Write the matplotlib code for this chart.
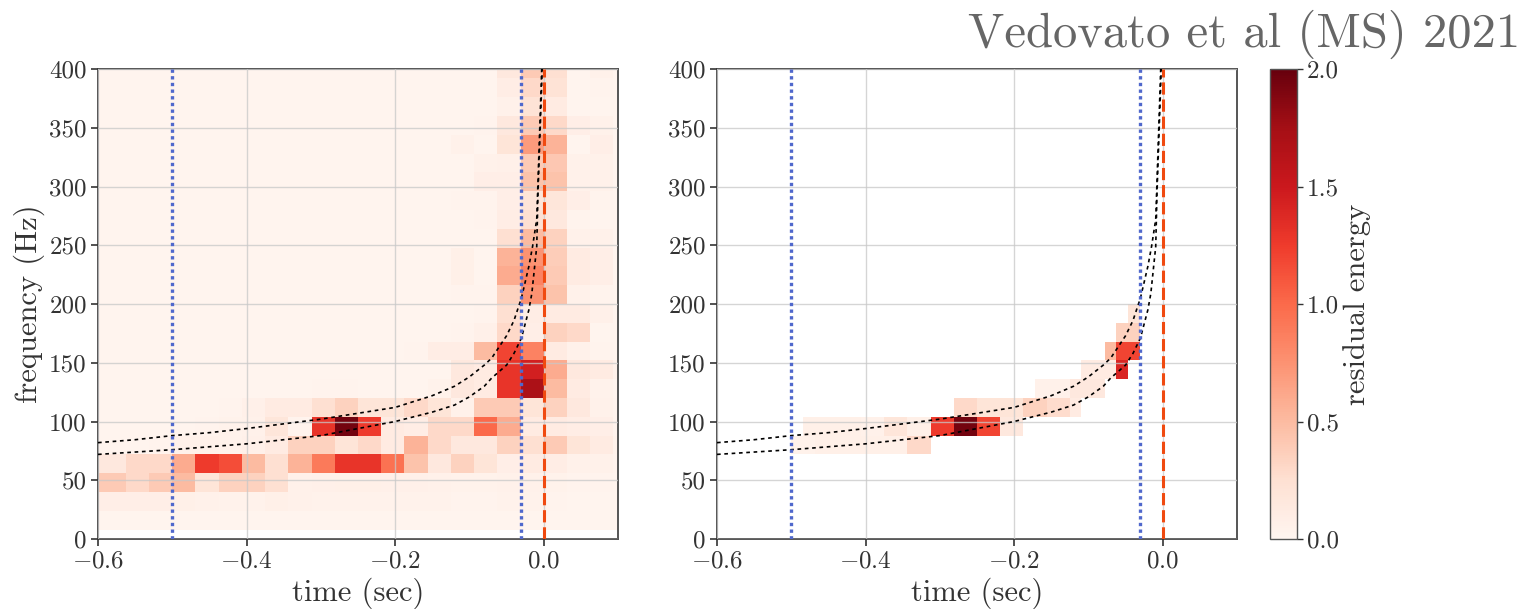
"""
Residual energy time-frequency maps, two panels with a shared colorbar
"""

import matplotlib
matplotlib.use('Agg')
import matplotlib.pyplot as plt
import numpy as np

plt.rcParams['font.family'] = ['cmr10', 'DejaVu Serif']
plt.rcParams['mathtext.fontset'] = 'cm'
plt.rcParams['axes.unicode_minus'] = False

# Left panel, columns are 1/32 s wide from -20/32 s, rows are 16 Hz tall from 8 Hz
left_energy = [
    [.02] * 24,
    [.08, .08, .08, .08, .07, .05, .04, .04, .07, .05, .04, .04, .04, .04, .04, .04, .03, .03, .04, .04, .03, .02, .02, .02],
    [.40, .40, .30, .40, .50, .20, .35, .35, .25, .05, .06, .07, .07, .06, .06, .05, .04, .04, .05, .05, .04, .03, .03, .02],
    [.15, .15, .30, .30, .60, 1.25, 1.15, .50, .25, .55, .90, 1.30, 1.30, .95, .45, .15, .35, .20, .08, .12, .10, .05, .05, .03],
    [.02, .02, .02, .03, .05, .05, .04, .06, .12, .35, .35, .20, .30, .12, .55, .30, .15, .15, .35, .25, .40, .20, .12, .04],
    [.02, .02, .02, .02, .02, .03, .04, .05, .18, .03, 1.30, 1.95, 1.25, .12, .10, .30, .30, 1.00, .60, .12, .12, .10, .08, .03],
    [.02, .02, .02, .02, .02, .02, .03, .06, .12, .12, .25, .35, .20, .20, .30, .20, .05, .40, .40, .20, .35, .15, .05, .03],
    [.02, .02, .02, .02, .02, .02, .02, .02, .02, .02, .03, .03, .02, .02, .02, .04, .15, .12, 1.30, 1.70, .50, .12, .04, .02],
    [.02, .02, .02, .02, .02, .02, .02, .02, .02, .02, .02, .02, .02, .02, .02, .02, .15, .12, 1.30, 1.45, .60, .15, .12, .05],
    [.02, .02, .02, .02, .02, .02, .02, .02, .02, .02, .02, .02, .02, .02, .03, .10, .10, .50, 1.20, .85, .12, .05, .03, .02],
    [.02, .02, .02, .02, .02, .02, .02, .02, .02, .02, .02, .02, .02, .02, .02, .02, .03, .06, .30, .08, .35, .30, .02, .02],
    [.02, .02, .02, .02, .02, .02, .02, .02, .02, .02, .02, .02, .02, .02, .02, .02, .02, .03, .25, .10, .12, .12, .06, .02],
    [.02, .02, .02, .02, .02, .02, .02, .02, .02, .02, .02, .02, .02, .02, .02, .02, .03, .03, .35, .75, .45, .05, .03, .02],
    [.02, .02, .02, .02, .02, .02, .02, .02, .02, .02, .02, .02, .02, .02, .02, .02, .07, .02, .60, .85, .40, .12, .08, .02],
    [.02, .02, .02, .02, .02, .02, .02, .02, .02, .02, .02, .02, .02, .02, .02, .02, .07, .02, .55, .75, .38, .12, .08, .02],
    [.02, .02, .02, .02, .02, .02, .02, .02, .02, .02, .02, .02, .02, .02, .02, .02, .02, .02, .25, .50, .35, .05, .05, .02],
    [.02, .02, .02, .02, .02, .02, .02, .02, .02, .02, .02, .02, .02, .02, .02, .02, .02, .03, .10, .25, .15, .03, .02, .02],
    [.02, .02, .02, .02, .02, .02, .02, .02, .02, .02, .02, .02, .02, .02, .02, .02, .03, .03, .08, .20, .18, .08, .03, .02],
    [.02, .02, .02, .02, .02, .02, .02, .02, .02, .02, .02, .02, .02, .02, .02, .02, .02, .08, .08, .45, .45, .05, .05, .02],
    [.02, .02, .02, .02, .02, .02, .02, .02, .02, .02, .02, .02, .02, .02, .02, .02, .02, .05, .06, .40, .42, .05, .05, .02],
    [.02, .02, .02, .02, .02, .02, .02, .02, .02, .02, .02, .02, .02, .02, .02, .02, .05, .02, .20, .70, .55, .02, .08, .02],
    [.02, .02, .02, .02, .02, .02, .02, .02, .02, .02, .02, .02, .02, .02, .02, .02, .02, .03, .15, .40, .30, .08, .05, .02],
    [.02, .02, .02, .02, .02, .02, .02, .02, .02, .02, .02, .02, .02, .02, .02, .02, .02, .02, .05, .22, .12, .02, .02, .02],
    [.02, .02, .02, .02, .02, .02, .02, .02, .02, .02, .02, .02, .02, .02, .02, .02, .02, .02, .10, .30, .22, .02, .03, .02],
    [.02, .02, .02, .02, .02, .02, .02, .02, .02, .02, .02, .02, .02, .02, .02, .02, .02, .02, .15, .40, .25, .02, .05, .02],
]

# Right panel, columns are 1/64 s wide from -32/64 s, rows are 16 Hz tall from 72 Hz
right_energy = [
    [.04, .04, .07, .07, .07, .07, .07, .07, .07, .07, .30, .30, 0, 0, 0, 0, 0, 0, 0, 0, 0, 0, 0, 0, 0, 0, 0, 0, 0, 0, 0, 0],
    [0, .07, .07, .07, .07, .07, .05, .05, .18, .18, .07, .07, 1.25, 1.25, 1.95, 1.95, 1.20, 1.20, .15, .15, 0, 0, 0, 0, 0, 0, 0, 0, 0, 0, 0, 0],
    [0, 0, 0, 0, 0, 0, 0, 0, 0, 0, 0, 0, 0, 0, .30, .30, .20, .20, .20, .20, .35, .35, .28, .28, .12, 0, 0, 0, 0, 0, 0, 0],
    [0, 0, 0, 0, 0, 0, 0, 0, 0, 0, 0, 0, 0, 0, 0, 0, 0, 0, 0, 0, 0, .05, .05, .05, .15, .15, .15, 0, 0, 0, 0, 0],
    [0, 0, 0, 0, 0, 0, 0, 0, 0, 0, 0, 0, 0, 0, 0, 0, 0, 0, 0, 0, 0, 0, 0, 0, 0, .12, .12, .12, 1.40, 0, 0, 0],
    [0, 0, 0, 0, 0, 0, 0, 0, 0, 0, 0, 0, 0, 0, 0, 0, 0, 0, 0, 0, 0, 0, 0, 0, 0, 0, 0, .50, 1.20, 1.20, 0, 0],
    [0, 0, 0, 0, 0, 0, 0, 0, 0, 0, 0, 0, 0, 0, 0, 0, 0, 0, 0, 0, 0, 0, 0, 0, 0, 0, 0, 0, .35, .35, 0, 0],
    [0, 0, 0, 0, 0, 0, 0, 0, 0, 0, 0, 0, 0, 0, 0, 0, 0, 0, 0, 0, 0, 0, 0, 0, 0, 0, 0, 0, 0, .20, 0, 0],
]

# Chirp tracks
upper_time = [-0.6, -0.55, -0.5, -0.45, -0.4, -0.35, -0.3, -0.25, -0.2, -0.15, -0.12, -0.1, -0.08, -0.07, -0.05, -0.04, -0.03, -0.02, -0.015, -0.0094, -0.0027]
upper_freq = [82, 84.5, 88, 90.5, 94, 98, 102, 107, 112, 122, 130, 138, 148, 154, 173, 186, 205, 232, 249, 272, 400]
lower_time = [-0.6, -0.55, -0.5, -0.45, -0.4, -0.35, -0.3, -0.25, -0.2, -0.15, -0.12, -0.1, -0.08, -0.07, -0.05, -0.04, -0.03, -0.02, -0.016, -0.0094, -0.0077, -0.002]
lower_freq = [72, 74, 76, 78.5, 81, 84.5, 88, 94, 100, 108, 114, 121, 130, 137, 148, 158, 171, 195, 209, 249, 294, 400]

blue_times = [-0.5, -0.03]
merger_time = 0.0

x_ticks = [-0.6, -0.4, -0.2, 0.0]
x_tick_labels = ['$-0.6$', '$-0.4$', '$-0.2$', '$0.0$']
y_ticks = [0, 50, 100, 150, 200, 250, 300, 350, 400]
cbar_ticks = [0.0, 0.5, 1.0, 1.5, 2.0]

W, H = 1536, 609
TICK_SIZE = 18
LABEL_SIZE = 22


def draw_panel(ax, t_edges, f_edges, energy):
    mesh = ax.pcolormesh(t_edges, f_edges, energy, cmap='Reds', vmin=0, vmax=2,
                         shading='flat', linewidth=0, rasterized=True)
    ax.set_axisbelow(False)
    ax.grid(True, color='#c8c8c8', linewidth=1.0, alpha=0.75)
    ax.plot(upper_time, upper_freq, color='black', linestyle=(0, (2.2, 2.2)), linewidth=1.2, zorder=3)
    ax.plot(lower_time, lower_freq, color='black', linestyle=(0, (2.2, 2.2)), linewidth=1.2, zorder=3)
    for t in blue_times:
        ax.axvline(t, color='#5068cc', linestyle=(0, (1, 1)), linewidth=2.4, zorder=3)
    ax.axvline(merger_time, color='#f04a10', linestyle=(0, (4, 1.6)), linewidth=2.2, zorder=3)
    ax.set_xlim(-0.6, 0.1)
    ax.set_ylim(0, 400)
    ax.set_xticks(x_ticks)
    ax.set_xticklabels(x_tick_labels)
    ax.set_yticks(y_ticks)
    ax.tick_params(labelsize=TICK_SIZE, length=5, width=1.2, color='#333333',
                   labelcolor='#333333', pad=3)
    ax.set_xlabel('time (sec)', fontsize=LABEL_SIZE, color='#333333', labelpad=4)
    for spine in ax.spines.values():
        spine.set_color('#555555')
        spine.set_linewidth(1.4)
    return mesh


fig = plt.figure(figsize=(W / 100, H / 100), dpi=100)


def px_axes(x0, x1, y0, y1):
    return fig.add_axes([x0 / W, 1 - y1 / H, (x1 - x0) / W, (y1 - y0) / H])


ax_left = px_axes(98, 618, 69, 539)
ax_right = px_axes(717, 1237, 69, 539)
cax = px_axes(1270, 1297, 69, 539)

left_arr = np.array(left_energy)
left_t = np.arange(-20, 5) / 32
left_f = 8 + 16 * np.arange(left_arr.shape[0] + 1)
draw_panel(ax_left, left_t, left_f, left_arr)
ax_left.set_ylabel('frequency (Hz)', fontsize=LABEL_SIZE, color='#333333', labelpad=3)

right_arr = np.ma.masked_equal(np.array(right_energy), 0)
right_t = np.arange(-32, 1) / 64
right_f = 72 + 16 * np.arange(right_arr.shape[0] + 1)
mesh = draw_panel(ax_right, right_t, right_f, right_arr)

cbar = fig.colorbar(mesh, cax=cax)
cbar.set_ticks(cbar_ticks)
cbar.set_ticklabels([f'{v:.1f}' for v in cbar_ticks])
cbar.ax.tick_params(labelsize=TICK_SIZE, length=4, width=1.0, color='#333333',
                    labelcolor='#333333', pad=3)
cbar.set_label('residual energy', fontsize=LABEL_SIZE, color='#333333', labelpad=3)
cbar.outline.set_edgecolor('#555555')
cbar.outline.set_linewidth(1.0)

fig.text(1520 / W, 1 - 47 / H, 'Vedovato et al (MS) 2021', ha='right', va='baseline',
         fontsize=35, color='#666666')

fig.savefig('out.png', dpi=100, facecolor='white')
plt.close(fig)
